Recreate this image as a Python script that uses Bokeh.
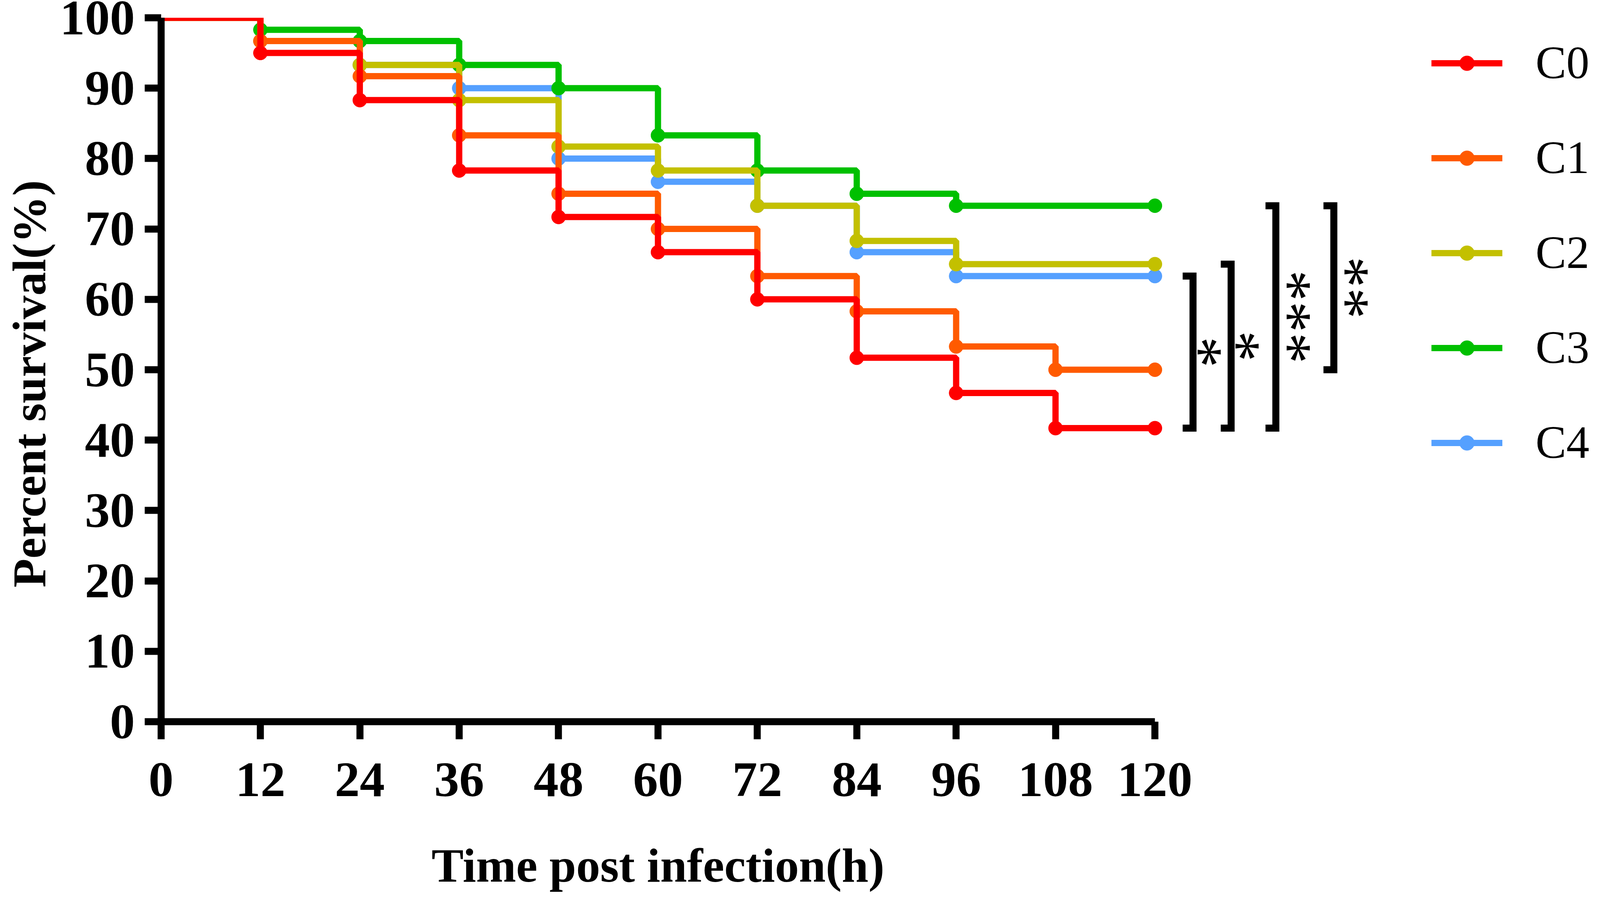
import math
from bokeh.plotting import figure
from bokeh.models import Range1d, FixedTicker, Legend, LegendItem
from bokeh.core.properties import value
from bokeh.embed import file_html
from bokeh.resources import INLINE

# ---------------- data ----------------
times = [0, 12, 24, 36, 48, 60, 72, 84, 96, 108, 120]
groups = ["C0", "C1", "C2", "C3", "C4"]
c0 = [100, 95.0, 88.3, 78.3, 71.7, 66.7, 60.0, 51.7, 46.7, 41.7, 41.7]
c1 = [100, 96.7, 91.7, 83.3, 75.0, 70.0, 63.3, 58.3, 53.3, 50.0, 50.0]
c2 = [100, 96.7, 93.3, 88.3, 81.7, 78.3, 73.3, 68.3, 65.0, 65.0, 65.0]
c3 = [100, 98.3, 96.7, 93.3, 90.0, 83.3, 78.3, 75.0, 73.3, 73.3, 73.3]
c4 = [100, 96.7, 93.3, 90.0, 80.0, 76.7, 73.3, 66.7, 63.3, 63.3, 63.3]
survival = {"C0": c0, "C1": c1, "C2": c2, "C3": c3, "C4": c4}
colors = {"C0": "#FF0000", "C1": "#FF5A00", "C2": "#C3C000",
          "C3": "#00C000", "C4": "#55A0FF"}
x_ticks = [0, 12, 24, 36, 48, 60, 72, 84, 96, 108, 120]
y_ticks = [0, 10, 20, 30, 40, 50, 60, 70, 80, 90, 100]
x_title = "Time post infection(h)"
y_title = "Percent survival(%)"

# significance comparisons (group a, group b, label)
comparisons = [("C0", "C4", "*"), ("C0", "C2", "*"),
               ("C0", "C3", "***"), ("C1", "C3", "**")]

# ---------------- layout ----------------
W, H = 4080, 2288
TOP = 45                              # canvas px of y = 100
ORIGIN_X, ORIGIN_Y = 411.7, 1847.0    # canvas px of the data origin
PX_PER_X = 2544.4 / 120.0
PX_PER_Y = 1802.0 / 100.0
x_start = -ORIGIN_X / PX_PER_X
x_end = (W - ORIGIN_X) / PX_PER_X
y_start = -(H - ORIGIN_Y) / PX_PER_Y
y_end = 100 + TOP / PX_PER_Y
bracket_x = [124.6, 129.2, 134.6, 141.6]
star_offset = [2.95, 2.95, 3.7, 3.7]
bracket_arm = 1.25
x_title_pos = (60, -22.5 + 37 / PX_PER_Y)
y_title_pos = (-15.17 - 16 / PX_PER_X, 48.0)
FONT = "Liberation Serif"

p = figure(width=W, height=H, x_range=Range1d(x_start, x_end),
           y_range=Range1d(y_start, y_end),
           output_backend="svg", toolbar_location=None,
           min_border_left=0, min_border_right=0,
           min_border_top=0, min_border_bottom=0)
p.outline_line_color = None
p.grid.visible = False
p.background_fill_color = "white"
p.border_fill_color = "white"

for ax, ticks in ((p.xaxis[0], x_ticks), (p.yaxis[0], y_ticks)):
    ax.ticker = FixedTicker(ticks=ticks)
    ax.fixed_location = 0
    ax.axis_line_width = 18
    ax.major_tick_line_width = 18
    ax.major_tick_in = 0
    ax.minor_tick_line_color = None
    ax.major_label_text_font = FONT
    ax.major_label_text_font_style = "bold"
    ax.major_label_text_font_size = "128px"
    ax.major_label_text_color = "black"
    ax.axis_line_color = "black"
    ax.major_tick_line_color = "black"

p.xaxis.major_tick_out = 45
p.yaxis.major_tick_out = 42
p.xaxis.bounds = (0, 120)
p.yaxis.bounds = (0, 100)
p.xaxis.major_label_standoff = 61
p.yaxis.major_label_standoff = 25

renderers = {}
for g in reversed(groups):
    vals = survival[g]
    line = p.step(times, vals, mode="after", line_width=16, line_color=colors[g])
    idx = [i for i in range(1, len(times))
           if vals[i] != vals[i - 1] or i == len(times) - 1]
    sc = p.scatter([times[i] for i in idx], [vals[i] for i in idx], size=36,
                   marker="circle", fill_color=colors[g], line_color=colors[g])
    renderers[g] = [line, sc]

# the plot area ends at 100 %: mask the half of the 100 % line that lies above it
p.quad(left=[x_start], right=[x_end], bottom=[100], top=[y_end],
       fill_color="white", line_color=None)

# brackets + stars
for (a, b, lab), xv, so in zip(comparisons, bracket_x, star_offset):
    fa, fb = survival[a][-1], survival[b][-1]
    top, bot = max(fa, fb), min(fa, fb)
    p.multi_line([[xv - bracket_arm, xv, xv, xv - bracket_arm]], [[top, top, bot, bot]],
                 line_width=18, line_color="black", line_join="miter")
    p.text(x=[xv + so], y=[(top + bot) / 2], text=[lab], angle=math.pi / 2,
           text_align="center", text_baseline="middle", text_color="black",
           text_font=value(FONT), text_font_size="160px")

# axis titles
p.text(x=[x_title_pos[0]], y=[x_title_pos[1]], text=[x_title],
       text_align="center", text_baseline="alphabetic", text_color="black",
       text_font=value(FONT), text_font_style="bold", text_font_size="123px")
p.text(x=[y_title_pos[0]], y=[y_title_pos[1]], text=[y_title], angle=math.pi / 2,
       text_align="center", text_baseline="alphabetic", text_color="black",
       text_font=value(FONT), text_font_style="bold", text_font_size="121px")

legend = Legend(items=[LegendItem(label=g, renderers=renderers[g]) for g in groups],
                location=(3664, 1080), glyph_width=182, glyph_height=95,
                label_height=150, spacing=93, label_standoff=85,
                padding=0, margin=0, border_line_color=None,
                background_fill_alpha=0, label_text_font=FONT,
                label_text_font_size="118px", label_text_color="black")
p.add_layout(legend)

open("out.html", "w").write(file_html(p, INLINE))
